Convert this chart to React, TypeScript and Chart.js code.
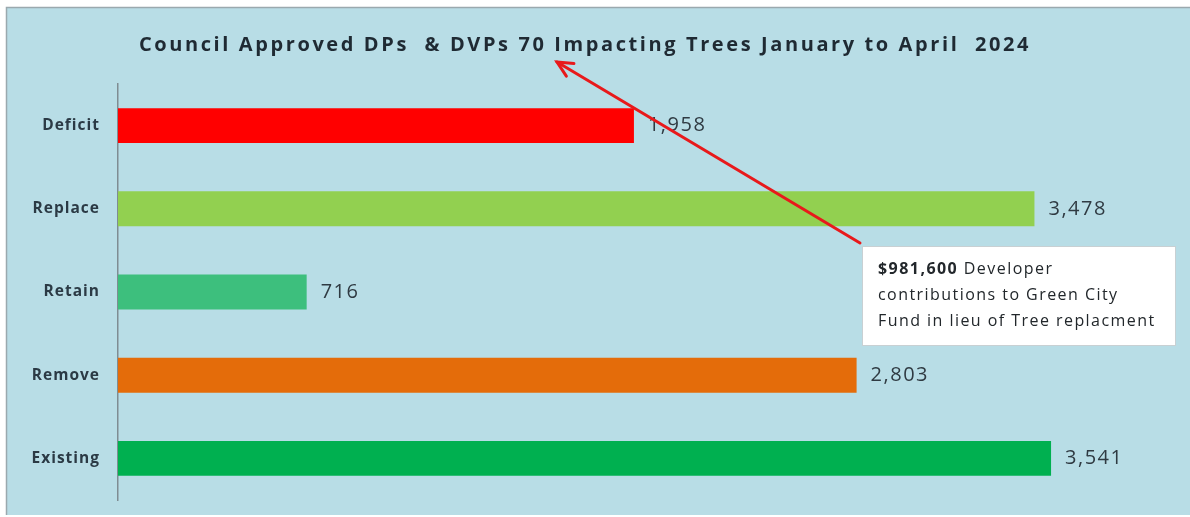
import React, { useEffect, useRef } from "react";
import { Chart, registerables } from "chart.js";

Chart.register(...registerables);

const categories = ["Deficit", "Replace", "Retain", "Remove", "Existing"];
const values = [1958, 3478, 716, 2803, 3541];
const barColors = ["#ff0000", "#92d050", "#3dbf7d", "#e46c0a", "#00b050"];
const titleText = "Council Approved DPs  & DVPs 70 Impacting Trees January to April  2024";
const noteBold = "$981,600";
const noteLines = [" Developer", "contributions to Green City", "Fund in lieu of Tree replacment"];
const xMax = 4000;

const FONT = '"Open Sans", "Liberation Sans", sans-serif';

const decorPlugin = {
  id: "decor",
  beforeDraw(chart: any) {
    const ctx = chart.ctx as CanvasRenderingContext2D;
    const w = chart.width;
    const h = chart.height;
    ctx.save();
    ctx.fillStyle = "#ffffff";
    ctx.fillRect(0, 0, w, h);
    ctx.fillStyle = "#b8dde6";
    ctx.fillRect(7, 8, w - 7, h - 10);
    ctx.strokeStyle = "#9aa9ae";
    ctx.lineWidth = 1.5;
    ctx.beginPath();
    ctx.moveTo(6.5, h - 2);
    ctx.lineTo(6.5, 7.5);
    ctx.lineTo(w, 7.5);
    ctx.stroke();
    ctx.restore();
    (ctx as any).letterSpacing = "1px";
  },
  afterDraw(chart: any) {
    const ctx = chart.ctx as CanvasRenderingContext2D;
    const meta = chart.getDatasetMeta(0);
    ctx.save();
    // value labels
    (ctx as any).letterSpacing = "1.5px";
    ctx.font = `20px ${FONT}`;
    ctx.fillStyle = "#2f3a42";
    ctx.textAlign = "left";
    ctx.textBaseline = "middle";
    meta.data.forEach((bar: any, i: number) => {
      ctx.fillText(values[i].toLocaleString("en-US"), bar.x + 14, bar.y);
    });

    // title
    (ctx as any).letterSpacing = "2.6px";
    ctx.font = `bold 20px ${FONT}`;
    ctx.fillStyle = "#1f2a33";
    ctx.textAlign = "center";
    ctx.fillText(titleText, 585, 45);

    // annotation box
    const bx = 862, by = 246, bw = 313, bh = 99;
    ctx.fillStyle = "#ffffff";
    ctx.fillRect(bx, by, bw, bh);
    ctx.strokeStyle = "#c8d0d3";
    ctx.lineWidth = 1;
    ctx.strokeRect(bx + 0.5, by + 0.5, bw, bh);

    ctx.textAlign = "left";
    ctx.fillStyle = "#22272b";
    (ctx as any).letterSpacing = "1.45px";
    ctx.font = `bold 16px ${FONT}`;
    ctx.fillText(noteBold, 878, 269);
    const bw0 = ctx.measureText(noteBold).width;
    ctx.font = `16px ${FONT}`;
    ctx.fillText(noteLines[0], 878 + bw0, 269);
    ctx.fillText(noteLines[1], 878, 295);
    ctx.fillText(noteLines[2], 878, 321);

    // arrow
    const x1 = 860, y1 = 243, x2 = 557, y2 = 62;
    ctx.strokeStyle = "#e8191b";
    ctx.lineWidth = 3;
    ctx.lineCap = "round";
    ctx.beginPath();
    ctx.moveTo(x1, y1);
    ctx.lineTo(x2, y2);
    ctx.stroke();
    const ang = Math.atan2(y2 - y1, x2 - x1);
    const head = 17;
    ctx.beginPath();
    ctx.moveTo(x2 + head * Math.cos(ang + Math.PI - 0.45), y2 + head * Math.sin(ang + Math.PI - 0.45));
    ctx.lineTo(x2, y2);
    ctx.lineTo(x2 + head * Math.cos(ang + Math.PI + 0.45), y2 + head * Math.sin(ang + Math.PI + 0.45));
    ctx.stroke();
    ctx.restore();
    (ctx as any).letterSpacing = "0px";
  },
};

export default function App() {
  const ref = useRef<HTMLCanvasElement | null>(null);
  useEffect(() => {
    if (!ref.current) return;
    const chart = new Chart(ref.current, {
      type: "bar",
      data: {
        labels: categories,
        datasets: [
          {
            data: values,
            backgroundColor: barColors,
            borderWidth: 0,
            categoryPercentage: 1,
            barPercentage: 0.42,
          },
        ],
      },
      options: {
        indexAxis: "y",
        animation: false,
        responsive: false,
        maintainAspectRatio: false,
        layout: { padding: { top: 84, bottom: 17, left: 0, right: 18 } },
        plugins: {
          legend: { display: false },
          title: { display: false },
          tooltip: { enabled: false },
        },
        scales: {
          x: { display: false, min: 0, max: xMax },
          y: {
            afterFit(scale: any) {
              scale.width = 118;
              scale.paddingTop = 0;
              scale.paddingBottom = 0;
            },
            grid: { display: false, drawTicks: false },
            border: { display: true, color: "#7f8c92", width: 1.5 },
            ticks: {
              padding: 18,
              color: "#2b3a45",
              font: { family: FONT, size: 15.5, weight: "bold" },
            },
          },
        },
      },
      plugins: [decorPlugin],
    } as any);
    return () => chart.destroy();
  }, []);
  return (
    <div style={{ position: "fixed", left: 0, top: 0, width: 1190, height: 517, background: "#fff" }}>
      <canvas ref={ref} width={1190} height={517} style={{ display: "block", width: 1190, height: 517 }} />
    </div>
  );
}
